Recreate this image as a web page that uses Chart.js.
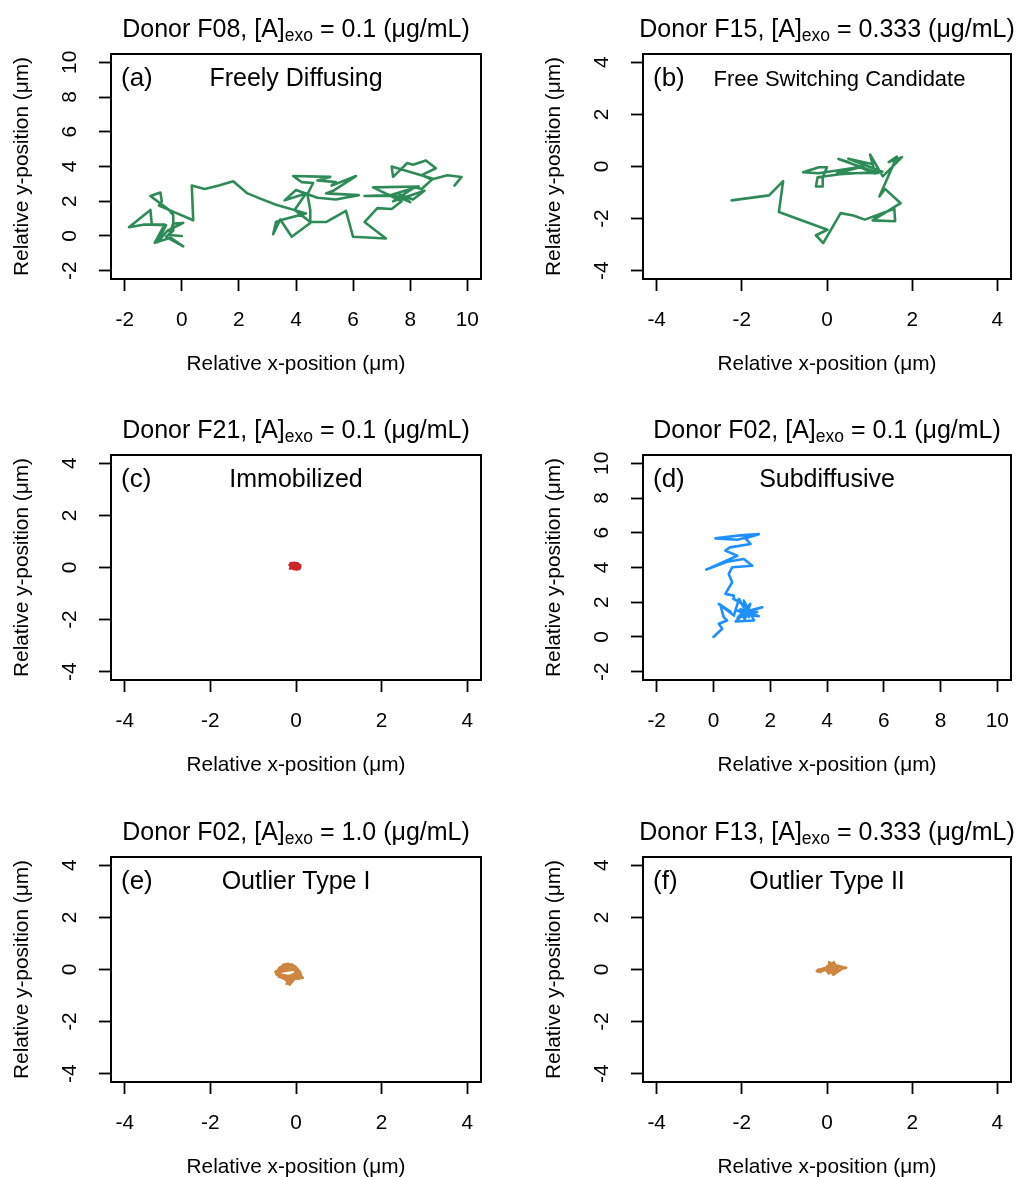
<!DOCTYPE html>
<html>
<head>
<meta charset="utf-8">
<script src="https://cdn.jsdelivr.net/npm/chart.js@4.4.1/dist/chart.umd.min.js"></script>
<style>
html,body{margin:0;padding:0;background:#fff;overflow:hidden;width:1016px;height:1177px;}
canvas{position:absolute;display:block;}
</style>
</head>
<body>
<canvas id="c0"></canvas>
<canvas id="c1"></canvas>
<canvas id="c2"></canvas>
<canvas id="c3"></canvas>
<canvas id="c4"></canvas>
<canvas id="c5"></canvas>
<script>
// ---------------- DATA ----------------
const panelLetters = ['(a)', '(b)', '(c)', '(d)', '(e)', '(f)'];
const panelNames = ['Freely Diffusing', 'Free Switching Candidate', 'Immobilized', 'Subdiffusive', 'Outlier Type I', 'Outlier Type II'];
const donors = ['F08', 'F15', 'F21', 'F02', 'F02', 'F13'];
const concentrations = ['0.1', '0.333', '0.1', '0.1', '1.0', '0.333'];
const seriesColors = ['#2E8B57', '#2E8B57', '#CD2626', '#1E90FF', '#CD853F', '#CD853F'];
const xAxisTitle = 'Relative x-position (\u03bcm)';
const yAxisTitle = 'Relative y-position (\u03bcm)';

const ticksWide = [-2, 0, 2, 4, 6, 8, 10];
const ticksNarrow = [-4, -2, 0, 2, 4];

// trajectories: [x, y] in micrometres
const trackA = [
[0,0],[-0.45,0.05],[-0.3,0.72],[0.05,0.75],[-0.5,0.3],[-0.85,-0.35],[-0.55,0.62],[-1.05,0.65],[-1.1,1.5],[-1.85,0.5],
[-1.35,0.65],[-0.6,0.65],[-0.95,-0.4],[-0.4,-0.1],[0.05,-0.6],[-0.55,-0.05],[-0.3,0.3],[-0.3,1.2],[-0.45,1.5],[-0.8,1.75],
[-0.7,2.0],[-0.75,2.5],[-1.1,2.3],[-0.45,1.5],[0.4,0.9],[0.35,2.9],[0.8,2.7],[1.3,2.9],[1.8,3.15],[2.3,2.45],
[2.75,2.15],[3.3,1.8],[4.35,1.3],[3.55,0.95],[3.3,0.8],[3.2,0.1],[3.45,0.95],[3.85,-0.05],[4.5,0.75],[4.5,1.5],
[4.4,2.4],[4.6,3.05],[4.2,3.1],[3.9,3.45],[5.2,3.4],[4.75,3.2],[5.4,3.1],[5.25,2.9],[6.1,3.45],[5.3,2.6],
[5.05,2.45],[6.2,2.35],[5.4,2.1],[4.75,2.2],[4.0,2.65],[3.6,2.05],[4.35,2.45],[3.95,1.5],[4.5,0.8],[5.05,0.8],
[5.75,1.45],[6.0,-0.05],[7.15,-0.15],[6.4,0.8],[6.85,1.6],[7.35,1.55],[7.7,2.0],[6.7,2.8],[8.3,2.85],[7.3,2.35],
[6.4,2.3],[7.5,2.3],[8.0,1.95],[7.6,2.4],[8.1,2.1],[8.5,2.6],[7.4,2.0],[8.15,2.8],[8.4,2.7],[8.8,3.3],
[7.35,4.0],[7.4,3.4],[7.9,4.2],[8.1,4.1],[8.55,4.35],[8.9,3.9],[8.4,3.5],[8.75,3.25],[9.3,3.5],[9.8,3.4],[9.55,2.9]
];
const trackB = [
[-2.24,-1.3],[-1.36,-1.11],[-1.03,-0.56],[-1.13,-1.75],[0.01,-2.43],[-0.26,-2.64],[-0.09,-2.94],[0.32,-1.79],[0.62,-1.88],[0.89,-2.04],
[1.58,-1.62],[1.6,-2.1],[1.07,-2.07],[1.73,-1.41],[1.36,-0.86],[1.23,-1.15],[1.64,0.38],[1.45,0.17],[1.76,0.36],[1.31,-0.38],
[1.01,0.46],[1.13,-0.28],[0.5,0.17],[0.27,0.29],[1.2,-0.25],[0.23,-0.26],[0.85,0.0],[-0.2,-0.26],[-0.56,-0.22],[-0.19,-0.03],
[0.0,-0.03],[-0.1,-0.41],[-0.1,-0.77],[-0.26,-0.77],[-0.22,-0.41],[0.3,-0.3],[1.3,-0.2],[0.5,0.3],[1.05,0.1]
];
const trackC = [
[0,0],[-0.05,0.06],[0.03,0.1],[-0.1,0.12],[-0.06,0.02],[0.05,-0.03],[0.08,0.06],[-0.02,0.15],[-0.12,0.05],[-0.15,0.1],
[-0.08,-0.05],[0.02,-0.08],[0.1,0.02],[0.06,0.12],[-0.04,0.18],[-0.13,0.16],[-0.1,-0.02],[0,0.04],[0.07,-0.06],[0.1,0.09],
[-0.03,0.08],[-0.14,-0.04],[-0.06,0.11],[0.04,0.16],[0.09,-0.02],[-0.02,-0.06],[-0.11,0.08],[0.01,0.12],[0.06,0.03],[-0.07,-0.01],
[-0.12,0.14],[0.02,0.02]
];
const trackD = [
[0,0],[0.31,0.47],[0.19,0.76],[0.48,0.95],[0.36,1.14],[0.25,1.81],[0.6,1.46],[0.19,1.9],[0.72,1.23],[0.9,2.19],
[1.25,1.14],[1.07,2.1],[1.43,0.95],[0.78,0.89],[1.2,1.5],[1.72,1.71],[1.0,1.35],[1.54,1.43],[0.85,1.1],[1.3,1.9],
[1.1,1.0],[0.95,1.6],[1.6,1.2],[1.15,1.3],[0.8,1.55],[1.35,1.25],[1.2,1.75],[0.7,2.2],[0.72,2.38],[0.42,2.48],
[0.66,3.15],[0.54,3.63],[0.66,4.01],[1.37,4.1],[1.07,4.49],[0.48,4.33],[-0.25,3.88],[0.84,4.68],[0.42,4.97],[0.58,5.16],
[1.31,5.35],[1.13,5.68],[1.6,5.92],[0.95,5.85],[0.07,5.68],[0.84,5.6],[1.55,5.88]
];
const trackE = [
[-0.15,0.0],[-0.3,0.05],[-0.42,-0.02],[-0.47,-0.12],[-0.4,-0.25],[-0.28,-0.3],[-0.15,-0.28],[0.0,-0.25],[0.05,-0.15],[0.0,-0.03],
[-0.1,0.03],[-0.25,0.0],[-0.35,0.1],[-0.25,0.2],[-0.12,0.15],[-0.05,0.05],[0.03,-0.08],[0.1,-0.22],[0.16,-0.32],[0.05,-0.35],
[-0.08,-0.3],[-0.2,-0.45],[-0.15,-0.58],[-0.08,-0.45],[-0.02,-0.3],[-0.22,-0.25],[-0.38,-0.18],[-0.44,-0.05],[-0.32,0.0],[-0.3,0.18],
[-0.18,0.22],[-0.08,0.1],[0.0,0.02],[-0.02,-0.1],[0.08,-0.3],[-0.05,-0.38],[-0.25,-0.38],[-0.35,-0.3],[-0.45,-0.2],[-0.48,-0.08],
[-0.36,-0.06],[-0.28,0.12],[-0.2,0.05],[-0.1,0.2],[0.02,0.05],[0.05,-0.2],[-0.1,-0.25],[-0.18,-0.52],[-0.26,-0.35],[-0.33,-0.22],
[-0.42,-0.12],[-0.26,-0.05],[-0.2,0.1],[-0.35,0.05],[-0.42,-0.15],[-0.3,-0.25],[-0.12,-0.23],[0.05,-0.1],[-0.05,0.0],[-0.3,-0.07],
[-0.45,-0.1],[-0.38,0.08],[-0.2,0.15],[-0.02,0.12],[0.1,-0.12],[0.12,-0.28],[-0.1,-0.4],[-0.22,-0.55],[-0.12,-0.5],[-0.3,-0.33],
[-0.4,-0.28]
];
const trackF = [
[0,0],[-0.1,-0.05],[-0.22,-0.08],[-0.2,0.0],[-0.08,-0.02],[0.02,0.05],[0.06,0.18],[0.05,0.28],[0.12,0.2],[0.16,0.28],
[0.2,0.12],[0.3,0.1],[0.45,0.07],[0.35,0.03],[0.25,-0.08],[0.15,-0.2],[0.1,-0.08],[0.04,-0.15],[0.0,-0.06],[0.1,0.08],
[0.22,0.15],[0.36,0.1],[0.3,-0.04],[0.18,-0.12],[0.08,0.02],[-0.05,0.05],[-0.15,-0.1],[-0.24,-0.06],[-0.12,0.02],[0.04,0.1],
[0.14,0.0],[0.26,0.05],[0.2,-0.05],[0.1,0.15],[0.0,0.12],[0.08,-0.1]
];

const tracks = [trackA, trackB, trackC, trackD, trackE, trackF];
const xTickSets = [ticksWide, ticksNarrow, ticksNarrow, ticksWide, ticksNarrow, ticksNarrow];
const yTickSets = [ticksWide, ticksNarrow, ticksNarrow, ticksWide, ticksNarrow, ticksNarrow];

// ---------------- LAYOUT / STYLE ----------------
const FONT = '"Liberation Sans", Arial, Helvetica, sans-serif';
const TICK_SIZE = 20.8;
const TITLE_SIZE = 25;
const SUB_SIZE = 17.5;
const NAME_SIZE = 25;
const LETTER_SIZE = 26;
const CANVAS_H = 390;
const ROW_TOPS = [0, 401, 803];
const COLS = [{left: 0, width: 508, padRight: 27}, {left: 532, width: 484, padRight: 5}];
const BOX_TOP = 54;
const Y_AXIS_W = 111;
const TICK_LEN = 12;

function rangeOf(t) {
  const lo = t[0], hi = t[t.length - 1], e = (hi - lo) * 0.04;
  return [lo - e, hi + e];
}

const measureCtx = document.createElement('canvas').getContext('2d');
function textW(s, size) {
  measureCtx.font = size + 'px ' + FONT;
  return measureCtx.measureText(s).width;
}

const boxPlugin = {
  id: 'rbox',
  afterDraw(chart) {
    const {ctx, chartArea: a} = chart;
    ctx.save();
    ctx.strokeStyle = '#000';
    ctx.lineWidth = 2;
    ctx.strokeRect(a.left, a.top, a.right - a.left, a.bottom - a.top);
    ctx.restore();
  }
};

const textPlugin = {
  id: 'rtext',
  afterDraw(chart, args, opts) {
    const {ctx, chartArea: a} = chart;
    const i = opts.index;
    ctx.save();
    ctx.fillStyle = '#000';
    ctx.textBaseline = 'alphabetic';
    ctx.textAlign = 'left';
    // main title with subscript
    const p1 = 'Donor ' + donors[i] + ', [A]';
    const ps = 'exo';
    const p2 = ' = ' + concentrations[i] + ' (\u03bcg/mL)';
    const w1 = textW(p1, TITLE_SIZE), ws = textW(ps, SUB_SIZE), w2 = textW(p2, TITLE_SIZE);
    const cx = (a.left + a.right) / 2;
    let x = cx - (w1 + ws + w2) / 2;
    const base = a.top - 17;
    ctx.font = TITLE_SIZE + 'px ' + FONT;
    ctx.fillText(p1, x, base); x += w1;
    ctx.font = SUB_SIZE + 'px ' + FONT;
    ctx.fillText(ps, x, base + 4); x += ws;
    ctx.font = TITLE_SIZE + 'px ' + FONT;
    ctx.fillText(p2, x, base);
    // panel letter
    ctx.font = LETTER_SIZE + 'px ' + FONT;
    ctx.fillText(panelLetters[i], a.left + 10, a.top + 32);
    // panel name
    const nameSize = (i === 1) ? 22 : NAME_SIZE;
    const nameCx = (i === 1) ? cx + 12.5 : cx;
    ctx.font = nameSize + 'px ' + FONT;
    ctx.textAlign = 'center';
    ctx.fillText(panelNames[i], nameCx, a.top + 32);
    ctx.restore();
  }
};

function makePanel(i) {
  const row = Math.floor(i / 2), col = COLS[i % 2];
  const canvas = document.getElementById('c' + i);
  canvas.width = col.width;
  canvas.height = CANVAS_H;
  canvas.style.left = col.left + 'px';
  canvas.style.top = ROW_TOPS[row] + 'px';
  canvas.style.width = col.width + 'px';
  canvas.style.height = CANVAS_H + 'px';

  const xt = xTickSets[i], yt = yTickSets[i];
  const [xmin, xmax] = rangeOf(xt);
  const [ymin, ymax] = rangeOf(yt);
  const widest = Math.max(...yt.map(v => textW(String(v), TICK_SIZE)));
  const yPad = Y_AXIS_W - TICK_LEN - 70.5 - widest / 2;

  const gridOpts = {drawOnChartArea: false, drawTicks: true, tickLength: TICK_LEN, tickWidth: 1.8, tickColor: '#000', color: '#000'};
  const tickFont = {family: FONT, size: TICK_SIZE};
  const titleFont = {family: FONT, size: TICK_SIZE};

  new Chart(canvas, {
    type: 'scatter',
    data: {
      datasets: [{
        data: tracks[i].map(p => ({x: p[0], y: p[1]})),
        showLine: true,
        borderColor: seriesColors[i],
        backgroundColor: seriesColors[i],
        borderWidth: 2.6,
        borderJoinStyle: 'round',
        borderCapStyle: 'round',
        pointRadius: 0,
        pointHoverRadius: 0,
        tension: 0,
        fill: false
      }]
    },
    options: {
      responsive: false,
      animation: false,
      devicePixelRatio: 1,
      events: [],
      layout: {padding: {left: 0, right: col.padRight, top: BOX_TOP, bottom: 0}},
      plugins: {
        legend: {display: false},
        tooltip: {enabled: false},
        title: {display: false},
        rtext: {index: i}
      },
      scales: {
        x: {
          type: 'linear', position: 'bottom', min: xmin, max: xmax,
          afterBuildTicks: s => { s.ticks = xt.map(v => ({value: v})); },
          afterFit: s => { s.height = CANVAS_H - 279; s.paddingLeft = 0; s.paddingRight = 0; },
          grid: gridOpts,
          border: {display: true, color: '#000', width: 2},
          ticks: {color: '#000', font: tickFont, padding: 17, maxRotation: 0, minRotation: 0, autoSkip: false, includeBounds: false},
          title: {display: true, text: xAxisTitle, color: '#000', font: titleFont, padding: {top: 0, bottom: 13.5}}
        },
        y: {
          type: 'linear', position: 'left', min: ymin, max: ymax,
          afterBuildTicks: s => { s.ticks = yt.map(v => ({value: v})); },
          afterFit: s => { s.width = Y_AXIS_W; s.paddingTop = 0; s.paddingBottom = 0; },
          grid: gridOpts,
          border: {display: true, color: '#000', width: 2},
          ticks: {color: '#000', font: tickFont, padding: yPad, minRotation: 90, maxRotation: 90, crossAlign: 'center', autoSkip: false, includeBounds: false},
          title: {display: true, text: yAxisTitle, color: '#000', font: titleFont, padding: {top: 10, bottom: 0}}
        }
      }
    },
    plugins: [boxPlugin, textPlugin]
  });
}

for (let i = 0; i < 6; i++) makePanel(i);
</script>
</body>
</html>
